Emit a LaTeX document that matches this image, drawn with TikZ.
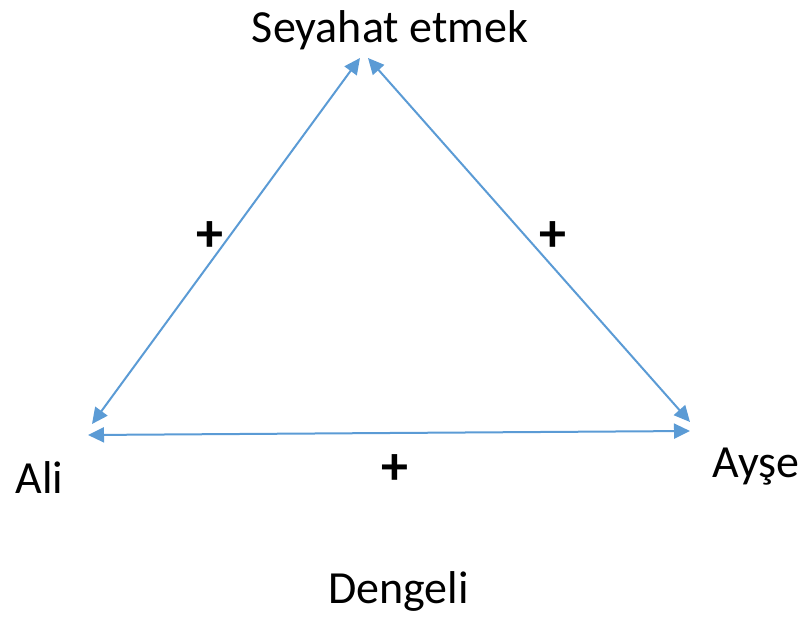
\documentclass[tikz,border=0pt]{standalone}
\usepackage{fontspec}
\setmainfont{Carlito}
\usepackage{xcolor}
\usetikzlibrary{arrows.meta}
\definecolor{linkblue}{RGB}{91,155,213}

\begin{document}
\begin{tikzpicture}[x=1pt, y=-1pt,
        every node/.style={font=\fontsize{46}{52}\selectfont, inner sep=0pt},
        link/.style={linkblue, line width=2pt, <->, >={Triangle[length=16pt, width=15pt]}},
        sign/.style={text=black, font=\fontsize{54}{60}\selectfont\bfseries}]
        \useasboundingbox (0,0) rectangle (810,618);

        \node[anchor=base] (travel) at (390,42) {Seyahat etmek};
        \node[anchor=base] (ali) at (39.5,493) {Ali};
        \node[anchor=base] (ayse) at (756,477) {Ayşe};
        \node[anchor=base] (title) at (398.5,603) {Dengeli};

        \coordinate (travel-l) at (360,58);
        \coordinate (travel-r) at (368,58);
        \coordinate (ali-u) at (92,424);
        \coordinate (ali-r) at (88,435);
        \coordinate (ayse-u) at (690,422);
        \coordinate (ayse-l) at (690,431);

        \draw[link] (ali-u) -- (travel-l);
        \draw[link] (ayse-u) -- (travel-r);
        \draw[link] (ali-r) -- (ayse-l);

        \node[sign] (s1) at (210,237) {+};
        \node[sign] (s2) at (553,237) {+};
        \node[sign] (s3) at (395,470) {+};

    \end{tikzpicture}
\end{document}
